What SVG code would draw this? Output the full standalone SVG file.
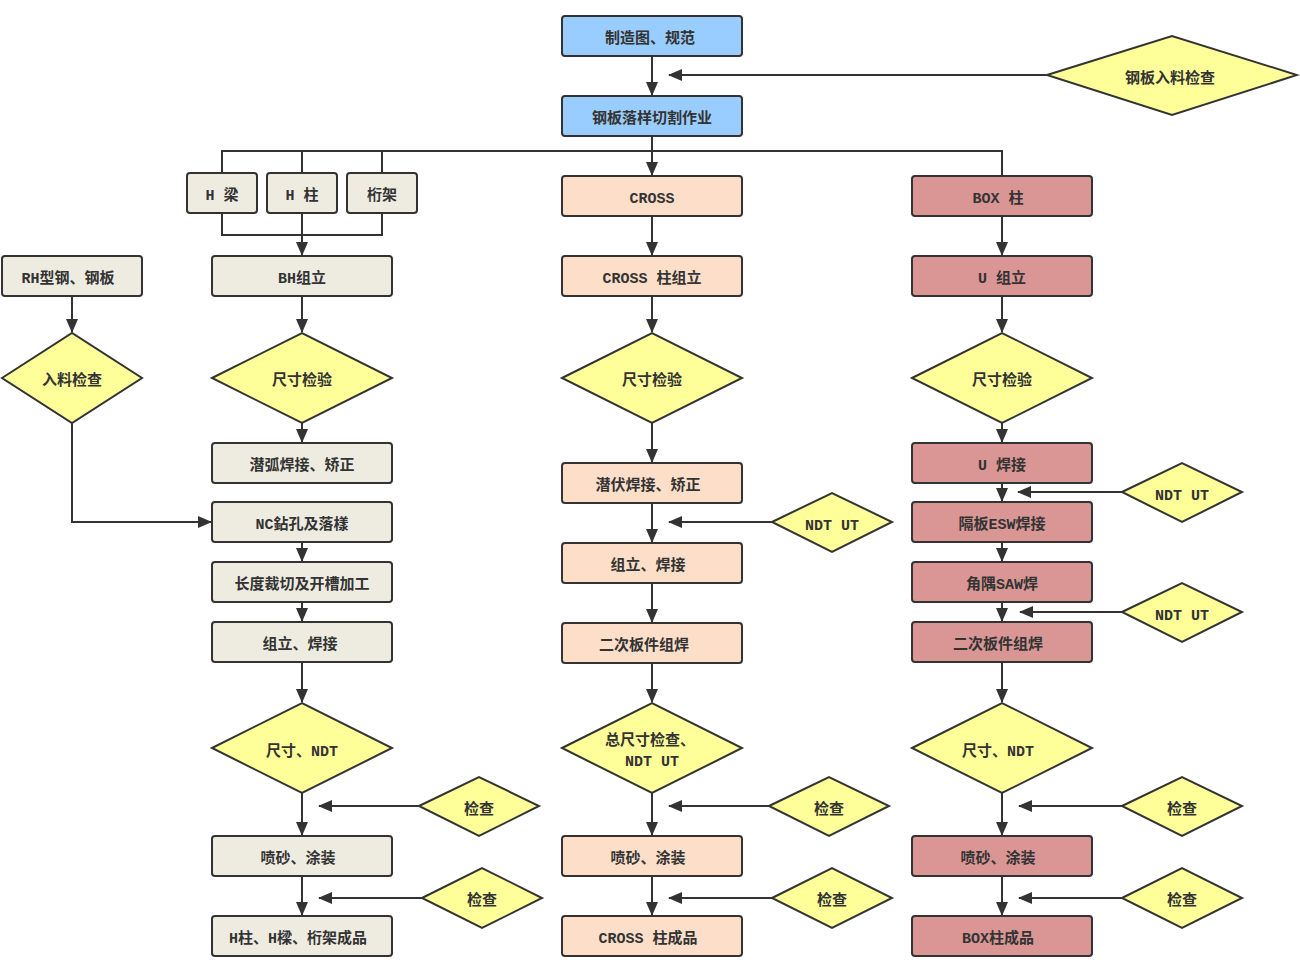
<svg xmlns="http://www.w3.org/2000/svg" width="1300" height="970" viewBox="0 0 1300 970">
<style>
.b{stroke:#333;stroke-width:2}
.blue{fill:#99CCFF}
.gr{fill:#EEECE1}
.pe{fill:#FDDFC9}
.rd{fill:#D99694}
.yl{fill:#FFFF99}
text{font-family:"Liberation Mono","Noto Sans CJK SC",monospace;font-size:15px;font-weight:bold;fill:#333;text-anchor:middle;dominant-baseline:central}
.c{fill:none;stroke:#333;stroke-width:2}
.a{marker-end:url(#ah)}
</style>
<defs>
<marker id="ah" markerWidth="14" markerHeight="12" refX="13" refY="6" orient="auto" markerUnits="userSpaceOnUse">
<path d="M0,0 L14,6 L0,12 Z" fill="#333"/>
</marker>
</defs>
<rect width="1300" height="970" fill="#fff"/>
<g id="connectors">
<path class="c a" d="M652,56 V95"/>
<path class="c a" d="M1047,75 H669"/>
<path class="c a" d="M652,136 V175"/>
<path class="c" d="M222,173 V151 H1002 V176 M302,151 V173 M382,151 V173"/>
<path class="c" d="M222,213 V235 H382 V213"/>
<path class="c a" d="M302,213 V255"/>
<path class="c a" d="M72,296 V332"/>
<path class="c a" d="M72,423 V522 H211"/>
<path class="c a" d="M302,296 V332"/>
<path class="c a" d="M302,423 V442"/>
<path class="c a" d="M302,542 V561"/>
<path class="c a" d="M302,602 V621"/>
<path class="c a" d="M302,662 V702"/>
<path class="c a" d="M302,793 V835"/>
<path class="c a" d="M419,806 H319"/>
<path class="c a" d="M302,876 V915"/>
<path class="c a" d="M422,898 H319"/>
<path class="c a" d="M652,216 V255"/>
<path class="c a" d="M652,296 V332"/>
<path class="c a" d="M652,423 V462"/>
<path class="c a" d="M652,503 V542"/>
<path class="c a" d="M772,522 H669"/>
<path class="c a" d="M652,583 V622"/>
<path class="c a" d="M652,663 V702"/>
<path class="c a" d="M652,793 V835"/>
<path class="c a" d="M769,806 H669"/>
<path class="c a" d="M652,876 V915"/>
<path class="c a" d="M772,898 H669"/>
<path class="c a" d="M1002,216 V255"/>
<path class="c a" d="M1002,296 V332"/>
<path class="c a" d="M1002,423 V442"/>
<path class="c a" d="M1002,483 V501"/>
<path class="c a" d="M1122,492 H1018"/>
<path class="c a" d="M1002,542 V561"/>
<path class="c a" d="M1002,602 V621"/>
<path class="c a" d="M1122,612 H1020"/>
<path class="c a" d="M1002,662 V702"/>
<path class="c a" d="M1002,793 V835"/>
<path class="c a" d="M1122,806 H1019"/>
<path class="c a" d="M1002,876 V915"/>
<path class="c a" d="M1122,898 H1019"/>
</g>
<g id="n_top1"><rect class="b blue" x="562" y="16" width="180" height="40" rx="3"/><text x="650" y="39">制造图、规范</text></g>
<g id="n_top2"><rect class="b blue" x="562" y="96" width="180" height="40" rx="3"/><text x="652" y="119">钢板落样切割作业</text></g>
<g id="n_steelchk"><polygon class="b yl" points="1047,75 1172,36 1297,75 1172,115"/><text x="1170" y="79">钢板入料检查</text></g>
<g id="n_hbeam"><rect class="b gr" x="187" y="173" width="70" height="40" rx="3"/><text x="222" y="196">H 梁</text></g>
<g id="n_hcol"><rect class="b gr" x="267" y="173" width="70" height="40" rx="3"/><text x="302" y="196">H 柱</text></g>
<g id="n_truss"><rect class="b gr" x="347" y="173" width="70" height="40" rx="3"/><text x="382" y="196">桁架</text></g>
<g id="n_rh"><rect class="b gr" x="2" y="256" width="140" height="40" rx="3"/><text x="68" y="279">RH型钢、钢板</text></g>
<g id="n_rhchk"><polygon class="b yl" points="2,378 72,333 142,378 72,423"/><text x="72" y="381">入料检查</text></g>
<g id="n_bh"><rect class="b gr" x="212" y="256" width="180" height="40" rx="3"/><text x="302" y="279">BH组立</text></g>
<g id="n_bhchk"><polygon class="b yl" points="212,378 302,333 392,378 302,423"/><text x="302" y="381">尺寸检验</text></g>
<g id="n_saw1"><rect class="b gr" x="212" y="443" width="180" height="40" rx="3"/><text x="302" y="466">潜弧焊接、矫正</text></g>
<g id="n_nc"><rect class="b gr" x="212" y="502" width="180" height="40" rx="3"/><text x="302" y="525">NC鉆孔及落樣</text></g>
<g id="n_len"><rect class="b gr" x="212" y="562" width="180" height="40" rx="3"/><text x="302" y="585">长度裁切及开槽加工</text></g>
<g id="n_asm1"><rect class="b gr" x="212" y="622" width="180" height="40" rx="3"/><text x="300" y="645">组立、焊接</text></g>
<g id="n_ndt1"><polygon class="b yl" points="212,748 302,703 392,748 302,793"/><text x="302" y="752">尺寸、NDT</text></g>
<g id="n_chk1a"><polygon class="b yl" points="419,806 479,777 539,806 479,836"/><text x="479" y="810">检查</text></g>
<g id="n_paint1"><rect class="b gr" x="212" y="836" width="180" height="40" rx="3"/><text x="298" y="859">喷砂、涂装</text></g>
<g id="n_chk1b"><polygon class="b yl" points="422,898 482,868 542,898 482,928"/><text x="482" y="901">检查</text></g>
<g id="n_fin1"><rect class="b gr" x="212" y="916" width="180" height="40" rx="3"/><text x="298" y="939">H柱、H樑、桁架成品</text></g>
<g id="n_cross"><rect class="b pe" x="562" y="176" width="180" height="40" rx="3"/><text x="652" y="199">CROSS</text></g>
<g id="n_crossasm"><rect class="b pe" x="562" y="256" width="180" height="40" rx="3"/><text x="652" y="279">CROSS 柱组立</text></g>
<g id="n_crosschk"><polygon class="b yl" points="562,378 652,333 742,378 652,423"/><text x="652" y="381">尺寸检验</text></g>
<g id="n_saw2"><rect class="b pe" x="562" y="463" width="180" height="40" rx="3"/><text x="648" y="486">潜伏焊接、矫正</text></g>
<g id="n_ndt2a"><polygon class="b yl" points="772,522 832,493 892,522 832,552"/><text x="832" y="526">NDT UT</text></g>
<g id="n_asm2"><rect class="b pe" x="562" y="543" width="180" height="40" rx="3"/><text x="648" y="566">组立、焊接</text></g>
<g id="n_sub2"><rect class="b pe" x="562" y="623" width="180" height="40" rx="3"/><text x="644" y="646">二次板件组焊</text></g>
<g id="n_ndt2"><polygon class="b yl" points="562,748 652,703 742,748 652,793"/><text x="650" y="741">总尺寸检查、</text><text x="652" y="762">NDT UT</text></g>
<g id="n_chk2a"><polygon class="b yl" points="769,806 829,777 889,806 829,836"/><text x="829" y="810">检查</text></g>
<g id="n_paint2"><rect class="b pe" x="562" y="836" width="180" height="40" rx="3"/><text x="648" y="859">喷砂、涂装</text></g>
<g id="n_chk2b"><polygon class="b yl" points="772,898 832,868 892,898 832,928"/><text x="832" y="901">检查</text></g>
<g id="n_fin2"><rect class="b pe" x="562" y="916" width="180" height="40" rx="3"/><text x="648" y="939">CROSS 柱成品</text></g>
<g id="n_box"><rect class="b rd" x="912" y="176" width="180" height="40" rx="3"/><text x="998" y="199">BOX 柱</text></g>
<g id="n_uasm"><rect class="b rd" x="912" y="256" width="180" height="40" rx="3"/><text x="1002" y="279">U 组立</text></g>
<g id="n_boxchk"><polygon class="b yl" points="912,378 1002,333 1092,378 1002,423"/><text x="1002" y="381">尺寸检验</text></g>
<g id="n_uweld"><rect class="b rd" x="912" y="443" width="180" height="40" rx="3"/><text x="1002" y="466">U 焊接</text></g>
<g id="n_ndt3a"><polygon class="b yl" points="1122,492 1182,463 1242,492 1182,522"/><text x="1182" y="496">NDT UT</text></g>
<g id="n_esw"><rect class="b rd" x="912" y="502" width="180" height="40" rx="3"/><text x="1002" y="525">隔板ESW焊接</text></g>
<g id="n_saw3"><rect class="b rd" x="912" y="562" width="180" height="40" rx="3"/><text x="1002" y="585">角隅SAW焊</text></g>
<g id="n_ndt3b"><polygon class="b yl" points="1122,612 1182,583 1242,612 1182,642"/><text x="1182" y="616">NDT UT</text></g>
<g id="n_sub3"><rect class="b rd" x="912" y="622" width="180" height="40" rx="3"/><text x="998" y="645">二次板件组焊</text></g>
<g id="n_ndt3"><polygon class="b yl" points="912,748 1002,703 1092,748 1002,793"/><text x="998" y="752">尺寸、NDT</text></g>
<g id="n_chk3a"><polygon class="b yl" points="1122,806 1182,777 1242,806 1182,836"/><text x="1182" y="810">检查</text></g>
<g id="n_paint3"><rect class="b rd" x="912" y="836" width="180" height="40" rx="3"/><text x="998" y="859">喷砂、涂装</text></g>
<g id="n_chk3b"><polygon class="b yl" points="1122,898 1182,868 1242,898 1182,928"/><text x="1182" y="901">检查</text></g>
<g id="n_fin3"><rect class="b rd" x="912" y="916" width="180" height="40" rx="3"/><text x="998" y="939">BOX柱成品</text></g>
</svg>
